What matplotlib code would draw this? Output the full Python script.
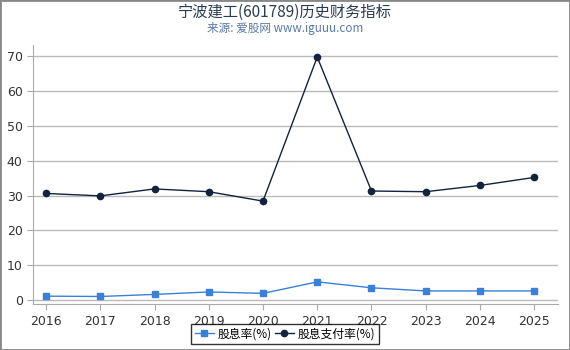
import matplotlib
matplotlib.use("Agg")
import matplotlib.pyplot as plt
from matplotlib.patches import Rectangle

plt.rcParams['font.family'] = ['DejaVu Sans', 'Noto Sans CJK SC']

years = [2016, 2017, 2018, 2019, 2020, 2021, 2022, 2023, 2024, 2025]
yield_pct = [1.1, 1.0, 1.6, 2.3, 1.9, 5.2, 3.5, 2.6, 2.6, 2.6]
payout_pct = [30.6, 29.9, 31.9, 31.1, 28.4, 69.8, 31.3, 31.1, 32.9, 35.2]

fig = plt.figure(figsize=(5.7, 3.5), dpi=100)
ax = fig.add_axes([0.058, 0.131, 0.921, 0.74])

ax.plot(years, yield_pct, color="#3a80d8", marker="s", markersize=4.5, linewidth=1, label="股息率(%)")
ax.plot(years, payout_pct, color="#13223d", marker="o", markersize=4.5, linewidth=1, label="股息支付率(%)")

ax.set_xlim(2015.76, 2025.44)
ax.set_ylim(-1.2, 73.2)
ax.set_xticks(years)
ax.set_yticks(range(0, 80, 10))
ax.tick_params(labelsize=9, colors="#333333", length=4, color="#aaaaaa")
ax.grid(axis="y", color="#bbbbbb", linewidth=1)
ax.set_axisbelow(True)
for s in ["top", "right"]:
    ax.spines[s].set_visible(False)
for s in ["left", "bottom"]:
    ax.spines[s].set_color("#aaaaaa")

fig.text(0.5, 0.964, "宁波建工(601789)历史财务指标", ha="center", va="center", fontsize=11,
         color="#2a3b55", family=['Noto Sans CJK SC', 'DejaVu Sans'])
fig.text(0.5, 0.918, "来源: 爱股网 www.iguuu.com", ha="center", va="center", fontsize=8.4,
         color="#5b78a6", family=['Noto Sans CJK SC', 'DejaVu Sans'])

leg = fig.legend(loc="lower center", bbox_to_anchor=(0.5, 0.0), ncol=2, frameon=True,
                 fancybox=False, edgecolor="black", handlelength=1.6, handletextpad=0.3, columnspacing=0.3,
                 borderpad=0.3, prop={'family': ['Noto Sans CJK SC', 'DejaVu Sans'], 'size': 8.5})
leg.get_frame().set_linewidth(1)

fig.patches.append(Rectangle((0, 0), 1, 1, transform=fig.transFigure, fill=False, edgecolor="#888888", linewidth=2))

fig.savefig("out.png", dpi=100)
